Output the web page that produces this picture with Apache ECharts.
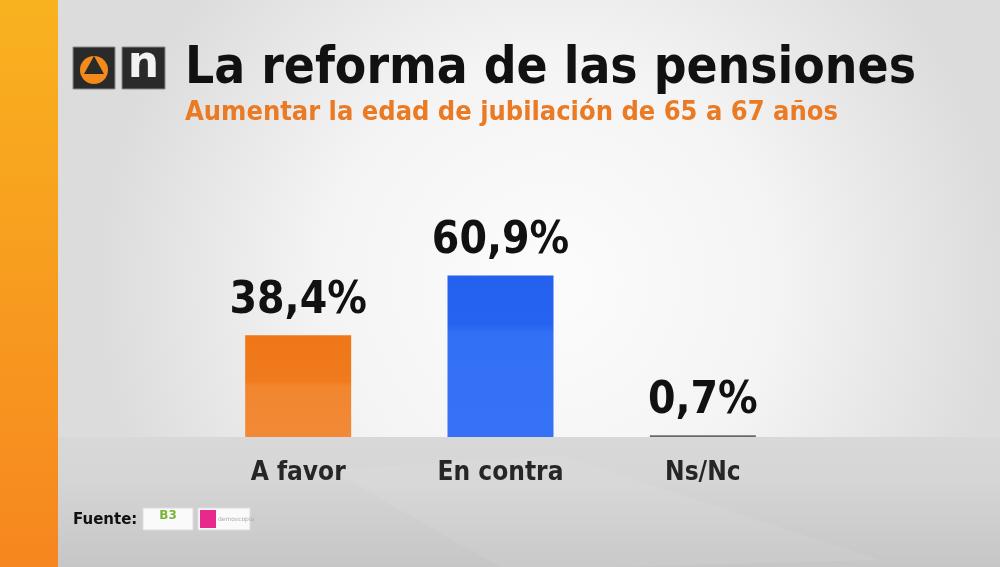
<!DOCTYPE html>
<html><head><meta charset="utf-8">
<script src="https://cdn.jsdelivr.net/npm/echarts@6/dist/echarts.min.js"></script>
<style>html,body{margin:0;padding:0;}#c{width:1000px;height:567px;}</style>
</head><body><div id="c"></div>
<script>
const categories = ['A favor', 'En contra', 'Ns/Nc'];
const values = [38.4, 60.9, 0.7];
const valueLabels = ['38,4%', '60,9%', '0,7%'];
const title = 'La reforma de las pensiones';
const subtitle = 'Aumentar la edad de jubilación de 65 a 67 años';
const source = 'Fuente:';

const barColors = [
  {type:'linear',x:0,y:0,x2:0,y2:1,colorStops:[{offset:0,color:'#ef7718'},{offset:0.45,color:'#f07a1c'},{offset:0.5,color:'#f2862f'},{offset:1,color:'#f28938'}]},
  {type:'linear',x:0,y:0,x2:0,y2:1,colorStops:[{offset:0,color:'#2461ef'},{offset:0.3,color:'#2663f0'},{offset:0.36,color:'#3270f5'},{offset:1,color:'#3672f5'}]},
  '#6a6a6a'
];

const chart = echarts.init(document.getElementById('c'), null, {renderer:'canvas'});
chart.setOption({
  animation:false,
  backgroundColor:'transparent',
  graphic:[
    {type:'rect', z:-10, shape:{x:0,y:0,width:1000,height:567},
     style:{fill:{type:'radial',x:0.55,y:0.5,r:0.8,colorStops:[{offset:0,color:'#fcfcfc'},{offset:0.5,color:'#f4f4f4'},{offset:1,color:'#dcdcdc'}]}}},
    {type:'rect', z:-9, shape:{x:58,y:437,width:942,height:130},
     style:{fill:{type:'linear',x:0,y:0,x2:0,y2:1,colorStops:[{offset:0,color:'#d8d8d8'},{offset:0.3,color:'#d6d6d6'},{offset:1,color:'#c6c6c6'}]}}},
    {type:'polygon', z:-8, shape:{points:[[330,470],[560,455],[880,560],[620,567],[500,567]]}, style:{fill:'rgba(255,255,255,0.07)'}},
    {type:'rect', z:-7, shape:{x:0,y:0,width:58,height:567},
     style:{fill:{type:'linear',x:0,y:0,x2:0,y2:1,colorStops:[{offset:0,color:'#f9b21f'},{offset:1,color:'#f6861f'}]}}},
    // logos
    {type:'rect', shape:{x:73,y:47,width:42,height:42}, style:{fill:'#2a2a2a',stroke:'#888',lineWidth:1}},
    {type:'circle', shape:{cx:94,cy:70,r:14}, style:{fill:'#f28a1c'}},
    {type:'polygon', shape:{points:[[94,56],[104,74],[84,74]]}, style:{fill:'#2a2a2a'}},
    {type:'rect', shape:{x:122,y:47,width:43,height:42}, style:{fill:'#2a2a2a',stroke:'#888',lineWidth:1}},
    {type:'text', style:{text:'n',x:143.5,y:66,align:'center',verticalAlign:'middle',fill:'#f2f2f2',font:'bold 44px "DejaVu Sans"'}},
    {type:'text', style:{text:title,x:185,y:70,verticalAlign:'middle',fill:'#111',font:'bold 51px "DejaVu Sans Condensed"'}},
    {type:'text', style:{text:subtitle,x:185,y:113,verticalAlign:'middle',fill:'#ea7a24',font:'bold 27px "DejaVu Sans Condensed"'}},
    {type:'text', style:{text:source,x:73,y:520,verticalAlign:'middle',fill:'#111',font:'bold 15px "DejaVu Sans"'}},
    {type:'rect', shape:{x:143,y:508,width:50,height:22}, style:{fill:'#fafafa',stroke:'#ddd',lineWidth:1}},
    {type:'text', style:{text:'B3',x:168,y:516,align:'center',verticalAlign:'middle',fill:'#7bb33a',font:'bold 12px "DejaVu Sans"'}},
    {type:'rect', shape:{x:198,y:508,width:52,height:22}, style:{fill:'#fafafa',stroke:'#ddd',lineWidth:1}},
    {type:'rect', shape:{x:200,y:510,width:16,height:18}, style:{fill:'#e8288c'}},
    {type:'text', style:{text:'demoscopia',x:218,y:519,verticalAlign:'middle',fill:'#aaa',font:'6px "DejaVu Sans"'}}
  ],
  grid:{left:197,right:196,top:172,bottom:130,containLabel:false},
  xAxis:{type:'category',data:categories,
    axisLine:{show:false},axisTick:{show:false},
    axisLabel:{margin:23,color:'#262626',fontSize:26,fontWeight:'bold',fontFamily:'"DejaVu Sans Condensed"'}},
  yAxis:{type:'value',min:0,max:100,show:false,splitLine:{show:false}},
  series:[{type:'bar',barWidth:106,
    data:values.map((v,i)=>({value:v,itemStyle:{color:barColors[i]},
      label:{formatter:valueLabels[i]}})),
    label:{show:true,position:'top',distance:12,color:'#111',fontSize:44,fontWeight:'bold',fontFamily:'"DejaVu Sans Condensed"'}
  }]
});
</script></body></html>
